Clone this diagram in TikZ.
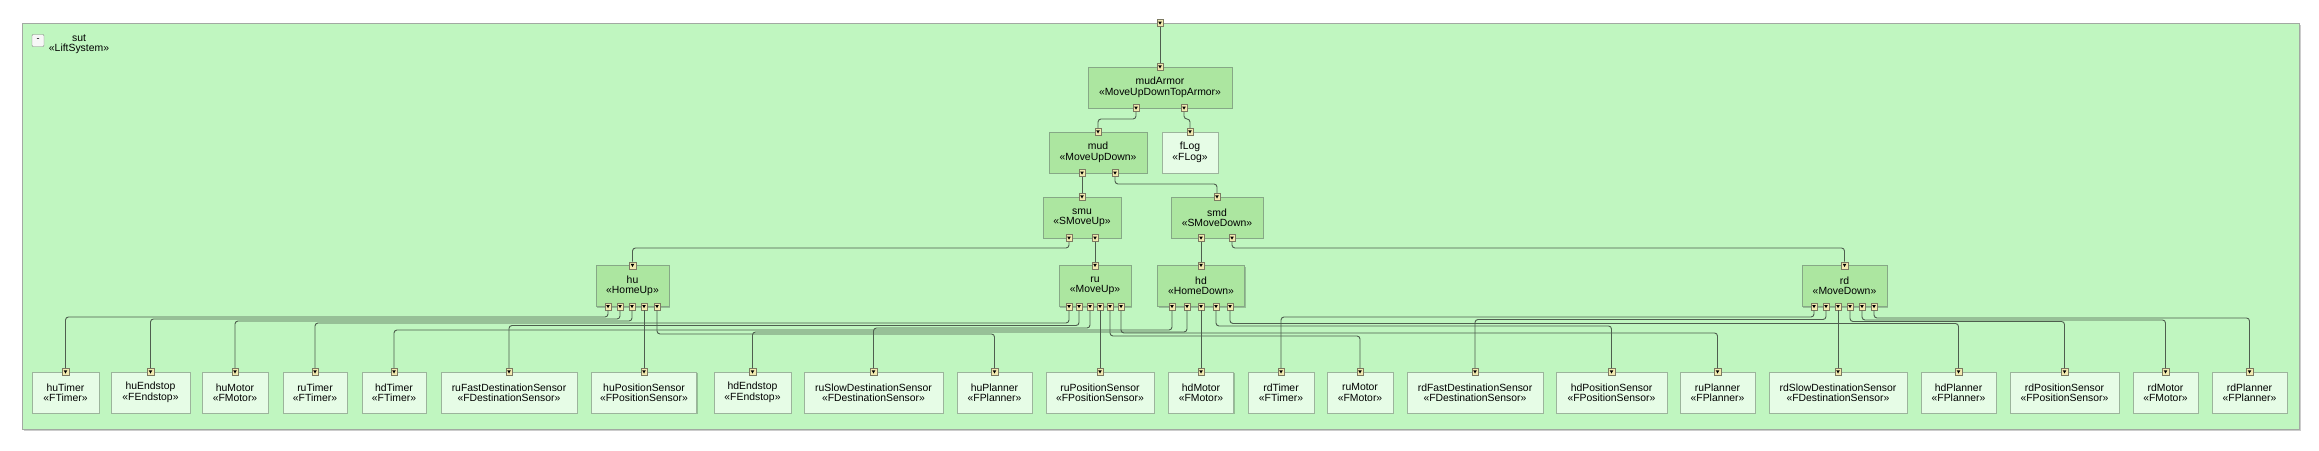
\documentclass[tikz,border=0pt]{standalone}
\usepackage{fontspec}
\setmainfont{Liberation Sans}
\usepackage{tikz}
\usetikzlibrary{
	shadows
}

\definecolor{sysfill}{HTML}{C0F6C0}
\definecolor{sysedge}{HTML}{A2A9A2}
\definecolor{partfill}{HTML}{ACE6A0}
\definecolor{partedge}{HTML}{86A886}
\definecolor{leaffill}{HTML}{E6FCE6}
\definecolor{leafedge}{HTML}{9CB49C}
\definecolor{portfill}{HTML}{F2EAB0}
\definecolor{portedge}{HTML}{7C7A62}
\definecolor{wirecol}{HTML}{4E5E4E}

\tikzset{
	part/.style={draw=partedge, fill=partfill, minimum height=41pt, inner sep=0pt, align=center,
		drop shadow={shadow xshift=1.2pt, shadow yshift=-1.2pt, fill=black, opacity=.22}},
	leaf/.style={part, draw=leafedge, fill=leaffill},
	port/.style={draw=portedge, fill=portfill, line width=.5pt, minimum width=6.5pt, minimum height=7pt, inner sep=0pt,
		path picture={\fill[black] ([shift={(-1.8pt,1.5pt)}]path picture bounding box.center) -- ++(3.6pt,0) -- ++(-1.8pt,-3.2pt) -- cycle;}},
	wire/.style={draw=wirecol, line width=.9pt, rounded corners=3pt}
}

\begin{document}
\begin{tikzpicture}[x=1pt, y=-1pt, font=\fontsize{10.4}{10.4}\selectfont]
	\useasboundingbox (0,0) rectangle (2319,450);
	\draw[draw=sysedge, fill=sysfill, line width=1pt,
		drop shadow={shadow xshift=1.5pt, shadow yshift=-1.5pt, fill=black, opacity=.2}]
		(22,23) rectangle (2299,429);
	\node[draw=gray, fill=white!94!gray, minimum size=12pt, inner sep=0pt, rounded corners=1pt, font=\fontsize{9}{9}\selectfont] (sutfold) at (38,40.5) {-};
	\node[align=center, inner sep=0pt] (sut) at (79,44) {sut\\«LiftSystem»};

	\foreach \n/\x/\y/\w/\t in {
			mudArmor/1160/87.5/144/MoveUpDownTopArmor,
			mud/1098/152.5/98/MoveUpDown,
			smu/1082/217.5/78/SMoveUp,
			smd/1217/217.5/92/SMoveDown,
			hu/632.5/286/73/HomeUp,
			ru/1095/286/72/MoveUp,
			hd/1201/286/87/HomeDown,
			rd/1844.5/286/85/MoveDown}
		\node[part, minimum width=\w pt] (\n) at (\x,\y) {\n\\«\t»};

	\node[leaf, minimum width=56pt] (fLog) at (1190,152.5) {fLog\\«FLog»};

	\foreach \n/\x/\w/\t in {
			huTimer/65.5/67/FTimer,
			huEndstop/150.5/79/FEndstop,
			huMotor/235/66/FMotor,
			ruTimer/315/64/FTimer,
			hdTimer/394/64/FTimer,
			ruFastDestinationSensor/509/136/FDestinationSensor,
			huPositionSensor/644/105/FPositionSensor,
			hdEndstop/752.5/77/FEndstop,
			ruSlowDestinationSensor/873.5/139/FDestinationSensor,
			huPlanner/994.5/75/FPlanner,
			ruPositionSensor/1100/108/FPositionSensor,
			hdMotor/1201/65/FMotor,
			rdTimer/1281/66/FTimer,
			ruMotor/1360/66/FMotor,
			rdFastDestinationSensor/1475/136/FDestinationSensor,
			hdPositionSensor/1611.5/111/FPositionSensor,
			ruPlanner/1717.5/75/FPlanner,
			rdSlowDestinationSensor/1838/138/FDestinationSensor,
			hdPlanner/1958.5/75/FPlanner,
			rdPositionSensor/2064.5/109/FPositionSensor,
			rdMotor/2165.5/65/FMotor,
			rdPlanner/2249.5/75/FPlanner}
		\node[leaf, minimum width=\w pt] (\n) at (\x,392.5) {\n\\«\t»};

	\node[port] (sut-in) at (1160,23) {};
	\foreach \n in {mudArmor,mud,smu,smd,hu,ru,hd,rd,fLog,
			huTimer,huEndstop,huMotor,ruTimer,hdTimer,ruFastDestinationSensor,huPositionSensor,
			hdEndstop,ruSlowDestinationSensor,huPlanner,ruPositionSensor,hdMotor,rdTimer,ruMotor,
			rdFastDestinationSensor,hdPositionSensor,ruPlanner,rdSlowDestinationSensor,hdPlanner,
			rdPositionSensor,rdMotor,rdPlanner}
		\node[port] (\n-in) at (\n.north) {};

	\foreach \n/\y/\xs in {
			mudArmor/108/{1136,1184},
			mud/173/{1082,1115},
			smu/238/{1069,1095},
			smd/238/{1201,1232},
			hu/306.5/{608,620,632,644,657},
			ru/306.5/{1069,1079,1090,1100,1110,1121},
			hd/306.5/{1172,1187,1201,1216,1230},
			rd/306.5/{1814,1826,1838,1850,1862,1874}}
		\foreach \x [count=\i] in \xs
			\node[port] (\n-\i) at (\x,\y) {};

	\foreach \a/\b in {sut-in/mudArmor-in, mud-1/smu-in, smu-2/ru-in, smd-1/hd-in,
			hu-4/huPositionSensor-in, ru-4/ruPositionSensor-in, hd-3/hdMotor-in, rd-3/rdSlowDestinationSensor-in}
		\draw[wire] (\a) -- (\b);

	\foreach \a/\b/\y in {
			mudArmor-1/mud-in/119, mudArmor-2/fLog-in/119,
			mud-2/smd-in/184,
			smu-1/hu-in/248, smd-2/rd-in/248,
			hu-1/huTimer-in/317, hu-2/huEndstop-in/319, hu-3/huMotor-in/321, hu-5/huPlanner-in/334,
			ru-1/ruTimer-in/323, ru-2/ruFastDestinationSensor-in/325.5, ru-3/ruSlowDestinationSensor-in/328,
			ru-5/ruMotor-in/336, ru-6/ruPlanner-in/333,
			hd-1/hdTimer-in/330, hd-2/hdEndstop-in/332, hd-4/hdPositionSensor-in/326, hd-5/hdPlanner-in/323.5,
			rd-1/rdTimer-in/317, rd-2/rdFastDestinationSensor-in/319.5, rd-4/rdPositionSensor-in/321.5,
			rd-5/rdMotor-in/320, rd-6/rdPlanner-in/318}
		\draw[wire] (\a) -- (\a |- 0,\y) -| (\b);
\end{tikzpicture}
\end{document}
